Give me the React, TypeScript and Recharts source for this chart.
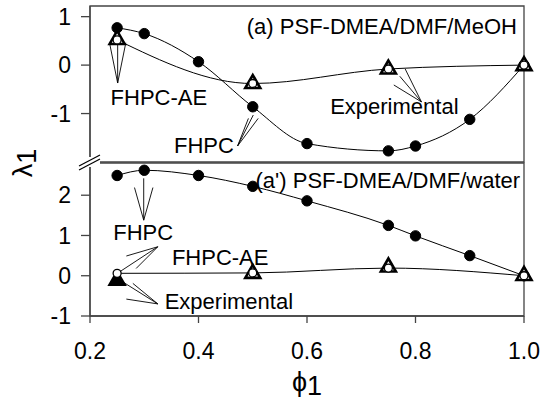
import React from 'react';
import {
  ComposedChart,
  Line,
  Scatter,
  XAxis,
  YAxis,
  ReferenceArea,
  ReferenceLine,
  ReferenceDot,
  Label,
} from 'recharts';

// phi_1 values of the calculated (FHPC) points and of the experimental points
const phiFhpc = [0.25, 0.3, 0.4, 0.5, 0.6, 0.75, 0.8, 0.9, 1.0];
const phiExp = [0.25, 0.5, 0.75, 1.0];
const xTicks = [0.2, 0.4, 0.6, 0.8, 1.0];

// (a) PSF-DMEA/DMF/MeOH
const meohFhpc = [0.77, 0.65, 0.07, -0.86, -1.62, -1.77, -1.67, -1.12, 0];
const meohExp = [0.54, -0.37, -0.07, 0];
const meohAe = [0.52, -0.38, -0.08, 0];
const topTicks = [-2, -1, 0, 1];

// (a') PSF-DMEA/DMF/water
const waterFhpc = [2.49, 2.62, 2.49, 2.22, 1.86, 1.25, 0.99, 0.5, 0];
const waterExp = [-0.1, 0.07, 0.23, 0.02];
const waterAe = [0.06, 0.07, 0.19, 0];
const botTicks = [-1, 0, 1, 2];

const pts = (xs: number[], ys: number[]) => xs.map((x, i) => ({ x, y: ys[i] }));

const INK = '#000';
const FRAME = '#444';
const TICK_FONT = 23;
const NOTE_FONT = 22;

const FilledDot = (p: any) => <circle key={p.index} cx={p.cx} cy={p.cy} r={5.2} fill={INK} stroke={INK} />;
const OpenDot = (p: any) => (
  <circle key={p.index} cx={p.cx} cy={p.cy} r={4} fill="#fff" stroke={INK} strokeWidth={1.3} />
);

const triangle = (solidFirst: boolean) => (p: any) => {
  const { cx, cy, index } = p;
  const fill = solidFirst && index === 0 ? INK : '#fff';
  return (
    <polygon
      points={`${cx},${cy - 8} ${cx - 7.5},${cy + 5} ${cx + 7.5},${cy + 5}`}
      fill={fill}
      stroke={INK}
      strokeWidth={2.6}
    />
  );
};

type Seg = [number, number, number, number];

// arrow fans: apex first, then tip
const topArrows: Seg[] = [
  [0.251, -0.37, 0.236, 0.46],
  [0.251, -0.37, 0.251, 0.47],
  [0.251, -0.37, 0.266, 0.46],
  [0.472, -1.67, 0.492, -1.1],
  [0.472, -1.67, 0.501, -1.03],
  [0.472, -1.67, 0.51, -1.1],
  [0.811, -0.76, 0.76, -0.41],
  [0.811, -0.76, 0.771, -0.23],
  [0.811, -0.76, 0.781, -0.08],
];
const botArrows: Seg[] = [
  [0.299, 1.38, 0.282, 2.19],
  [0.299, 1.38, 0.299, 2.42],
  [0.299, 1.38, 0.316, 2.19],
  [0.325, 0.72, 0.267, 0.49],
  [0.325, 0.72, 0.285, 0.18],
  [0.325, 0.72, 0.255, 0.1],
  [0.325, -0.7, 0.267, -0.58],
  [0.325, -0.7, 0.279, -0.19],
  [0.325, -0.7, 0.26, -0.15],
];

type Note = [number, number, string];
const topNotes: Note[] = [
  [0.738, 0.81, '(a) PSF-DMEA/DMF/MeOH'],
  [0.327, -0.67, 'FHPC-AE'],
  [0.41, -1.65, 'FHPC'],
  [0.761, -0.85, 'Experimental'],
];
const botNotes: Note[] = [
  [0.749, 2.37, "(a') PSF-DMEA/DMF/water"],
  [0.298, 1.08, 'FHPC'],
  [0.44, 0.47, 'FHPC-AE'],
  [0.456, -0.62, 'Experimental'],
];

const tickStyle = { fontSize: TICK_FONT, fill: INK };

function renderArrows(list: Seg[], prefix: string) {
  return list.map(([x1, y1, x2, y2], i) => (
    <ReferenceLine
      key={prefix + i}
      segment={[{ x: x1, y: y1 }, { x: x2, y: y2 }]}
      stroke={INK}
      strokeWidth={0.9}
      ifOverflow="visible"
    />
  ));
}

function renderNotes(list: Note[], prefix: string) {
  return list.map(([x, y, text], i) => (
    <ReferenceDot key={prefix + i} x={x} y={y} r={0} stroke="none" fill="none" ifOverflow="visible">
      <Label value={text} position="center" fontSize={NOTE_FONT} fill={INK} />
    </ReferenceDot>
  ));
}

const PhiLabel = (props: any) => {
  const vb = props.viewBox;
  return (
    <text x={vb.x + vb.width / 2} y={vb.y + 75} textAnchor="middle" fontSize={27} fill={INK}>
      ϕ<tspan dy={4}>1</tspan>
    </text>
  );
};

export default function App() {
  return (
    <div
      style={{
        position: 'absolute',
        left: 0,
        top: 0,
        width: 542,
        height: 400,
        background: '#fff',
        fontFamily: '"Liberation Sans", Arial, sans-serif',
      }}
    >
      <div style={{ position: 'absolute', left: 0, top: 0 }}>
        <ComposedChart width={542} height={163} margin={{ top: 6, right: 18, bottom: 1, left: 0 }}>
          <XAxis dataKey="x" type="number" domain={[0.2, 1.0]} ticks={xTicks} hide />
          <YAxis
            type="number"
            domain={[-2, 1.22]}
            ticks={topTicks}
            width={90}
            tick={tickStyle}
            tickSize={9}
            tickMargin={10}
            stroke={FRAME}
            strokeWidth={1.3}
            allowDataOverflow
          />
          <ReferenceArea x1={0.2} x2={1.0} y1={-2} y2={1.22} fill="none" stroke={FRAME} strokeWidth={1.3} />
          <Line
            data={pts(phiFhpc, meohFhpc)}
            dataKey="y"
            type="monotone"
            stroke={INK}
            strokeWidth={1}
            dot={FilledDot}
            isAnimationActive={false}
          />
          <Scatter data={pts(phiExp, meohExp)} dataKey="y" shape={triangle(false)} isAnimationActive={false} />
          <Line
            data={pts(phiExp, meohAe)}
            dataKey="y"
            type="monotone"
            stroke={INK}
            strokeWidth={1}
            dot={OpenDot}
            isAnimationActive={false}
          />
          {renderArrows(topArrows, 'ta')}
          {renderNotes(topNotes, 'tn')}
        </ComposedChart>
      </div>
      <div style={{ position: 'absolute', left: 0, top: 162 }}>
        <ComposedChart width={542} height={238} margin={{ top: 1, right: 18, bottom: 0, left: 0 }}>
          <XAxis
            dataKey="x"
            type="number"
            domain={[0.2, 1.0]}
            ticks={xTicks}
            tickFormatter={(v: number) => v.toFixed(1)}
            height={84}
            tick={tickStyle}
            tickSize={7}
            tickMargin={20}
            stroke={FRAME}
            strokeWidth={1.3}
            label={<PhiLabel />}
          />
          <YAxis
            type="number"
            domain={[-1, 2.8]}
            ticks={botTicks}
            width={90}
            tick={tickStyle}
            tickSize={9}
            tickMargin={10}
            stroke={FRAME}
            strokeWidth={1.3}
            allowDataOverflow
          />
          <ReferenceArea x1={0.2} x2={1.0} y1={-1} y2={2.8} fill="none" stroke={FRAME} strokeWidth={1.3} />
          <Line
            data={pts(phiFhpc, waterFhpc)}
            dataKey="y"
            type="monotone"
            stroke={INK}
            strokeWidth={1}
            dot={FilledDot}
            isAnimationActive={false}
          />
          <Scatter data={pts(phiExp, waterExp)} dataKey="y" shape={triangle(true)} isAnimationActive={false} />
          <Line
            data={pts(phiExp, waterAe)}
            dataKey="y"
            type="monotone"
            stroke={INK}
            strokeWidth={1}
            dot={OpenDot}
            isAnimationActive={false}
          />
          {renderArrows(botArrows, 'ba')}
          {renderNotes(botNotes, 'bn')}
        </ComposedChart>
      </div>
      <svg
        width={542}
        height={400}
        style={{ position: 'absolute', left: 0, top: 0, pointerEvents: 'none' }}
      >
        <text
          x={32}
          y={163}
          transform="rotate(-90, 32, 163)"
          textAnchor="middle"
          fontSize={27}
          fill={INK}
        >
          λ<tspan dy={4}>1</tspan>
        </text>
        <rect x={80} y={157} width={20} height={10} fill="#fff" />
        <line x1={79} y1={166} x2={100} y2={155} stroke={INK} strokeWidth={1.2} />
        <line x1={79} y1={170} x2={100} y2={159} stroke={INK} strokeWidth={1.2} />
      </svg>
    </div>
  );
}
